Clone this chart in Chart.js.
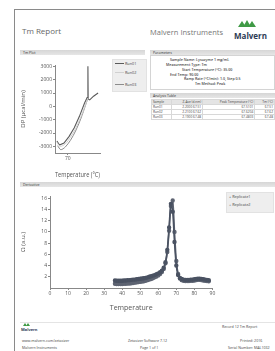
<!DOCTYPE html>
<html><head><meta charset="utf-8">
<script src="https://cdn.jsdelivr.net/npm/chart.js@4/dist/chart.umd.min.js"></script>
<style>
html,body{margin:0;padding:0;background:#fff;}
body{width:275px;height:351px;overflow:hidden;position:relative;font-family:"Open Sans","Noto Sans",sans-serif;}
.abs{position:absolute;white-space:nowrap;}
.bar{position:absolute;height:5px;background:linear-gradient(#d6d6d6,#e6e6e6);font-size:3.5px;line-height:5px;color:#333;padding-left:3px;box-sizing:border-box;}
.t{font-size:3.6px;color:#444;line-height:4.6px;}
.leg{position:absolute;background:#eeeeee;border:1px solid #e2e2e2;}
.legitem{position:absolute;font-size:3.8px;color:#444;white-space:nowrap;}
.tbl{position:absolute;left:151px;top:99px;width:124px;border-collapse:collapse;font-size:3.2px;color:#444;}
.tbl td{border:1px solid #d8d8d8;height:4px;padding:0 1px;line-height:4px;text-align:right;}
.tbl tr:first-child td{background:#e4e4e4;}
.tri{position:absolute;width:0;height:0;border-left:4px solid transparent;border-right:4px solid transparent;border-bottom:6px solid #3f9a45;}
</style></head><body>
<div class="abs" style="left:14px;top:9px;width:300px;height:400px;border:1px solid #8a8a8a;"></div>

<div class="abs" style="left:22px;top:25px;font-size:8px;color:#666;">Tm Report</div>
<div class="abs" style="left:150px;top:27px;font-size:7.5px;color:#777;">Malvern Instruments</div>
<div class="tri" style="left:238px;top:21px;"></div>
<div class="tri" style="left:243px;top:20px;border-bottom-width:7px;"></div>
<div class="tri" style="left:248px;top:21px;"></div>
<div class="abs" style="left:234px;top:30px;font-size:8px;font-weight:bold;color:#2d3b55;">Malvern</div>

<div class="bar" style="left:20px;top:50px;width:125px;">Tm Plot</div>
<div class="bar" style="left:150px;top:50px;width:125px;">Parameters</div>
<div class="abs" style="left:150px;top:55px;width:125px;height:35px;border:1px solid #d4d4d4;box-sizing:border-box;"></div>
<div class="abs t" style="left:170px;top:57.5px;font-weight:600;">Sample Name: Lysozyme 1 mg/mL</div>
<div class="abs t" style="left:166px;top:62.5px;font-weight:600;">Measurement Type: Tm</div>
<div class="abs t" style="left:182px;top:67.5px;font-weight:600;">Start Temperature (°C): 35.00</div>
<div class="abs t" style="left:170px;top:72.5px;font-weight:600;">End Temp: 90.00</div>
<div class="abs t" style="left:184px;top:77px;font-weight:600;">Ramp Rate (°C/min): 1.0, Step 0.5</div>
<div class="abs t" style="left:195px;top:81.5px;font-weight:600;">Tm Method: Peak</div>

<div class="bar" style="left:150px;top:93px;width:125px;">Analysis Table</div>
<table class="tbl">
<tr><td style="text-align:left">Sample</td><td>Z-Ave (d.nm)</td><td>Peak Temperature (°C)</td><td>Tm (°C)</td></tr>
<tr><td style="text-align:left">Run01</td><td>2.2000 67.51</td><td>67.5101</td><td>67.51</td></tr>
<tr><td style="text-align:left">Run02</td><td>2.2100 67.62</td><td>67.6204</td><td>67.62</td></tr>
<tr><td style="text-align:left">Run03</td><td>2.1900 67.48</td><td>67.4803</td><td>67.48</td></tr>
</table>

<div class="abs" style="left:20px;top:57px;"><canvas id="c1" width="82" height="122"></canvas></div>
<div class="leg" style="left:112px;top:59px;width:33px;height:31px;"></div>
<div class="legitem" style="left:115px;top:60.5px;"><span style="display:inline-block;width:9px;height:0;border-top:1px solid #5a5a5a;vertical-align:middle;"></span> Run01</div>
<div class="legitem" style="left:115px;top:70px;"><span style="display:inline-block;width:9px;height:0;border-top:1px solid #d0d0d0;vertical-align:middle;"></span> Run02</div>
<div class="legitem" style="left:115px;top:81.5px;"><span style="display:inline-block;width:9px;height:0;border-top:1px solid #8c8c8c;vertical-align:middle;"></span> Run03</div>

<div class="bar" style="left:20px;top:182px;width:255px;">Derivative</div>
<div class="abs" style="left:20px;top:188px;"><canvas id="c2" width="198" height="124"></canvas></div>
<div class="leg" style="left:226px;top:192px;width:46px;height:19px;"></div>
<div class="legitem" style="left:229px;top:194px;"><span style="color:#4a5262;">+</span> Replicate1</div>
<div class="legitem" style="left:229px;top:202px;"><span style="color:#6c7280;">+</span> Replicate2</div>

<div class="abs" style="left:20px;top:322px;width:255px;height:0;border-top:1px solid #e4e4e4;"></div>
<div class="tri" style="left:23px;top:323px;border-left-width:2px;border-right-width:2px;border-bottom-width:3px;"></div>
<div class="tri" style="left:26px;top:323px;border-left-width:2px;border-right-width:2px;border-bottom-width:3px;"></div>
<div class="abs" style="left:21px;top:327px;font-size:4px;font-weight:bold;color:#2d3b55;">Malvern</div>
<div class="abs t" style="left:22px;top:339px;">www.malvern.com/zetasizer</div>
<div class="abs t" style="left:22px;top:346px;">Malvern Instruments</div>
<div class="abs t" style="left:128px;top:339px;">Zetasizer Software 7.12</div>
<div class="abs t" style="left:140px;top:346px;">Page 1 of 1</div>
<div class="abs t" style="left:222px;top:325px;">Record 12 Tm Report</div>
<div class="abs t" style="left:240px;top:339px;">Printed: 2016</div>
<div class="abs t" style="left:228px;top:346px;">Serial Number: MAL1032</div>

<script>
// ---- Tm plot data ----
const run01Temp = [61.5, 63.5, 67, 71, 75, 79, 83, 85, 85.6, 85.8, 87, 90, 93.5];
const run01Dp   = [-2600, -2900, -2750, -2250, -1600, -750, 250, 650, 3000, 550, 480, 760, 1000];
const run02Temp = [61.5, 64, 68, 72, 76, 80, 84, 85.6];
const run02Dp   = [-2700, -3000, -2820, -2320, -1680, -820, 180, 620];
const run03Temp = [62, 64.5, 68, 72, 76, 80, 84, 85.6];
const run03Dp   = [-2950, -3250, -3050, -2550, -1850, -950, 150, 600];
const tmYTicks  = [-3000, -2000, -1000, 0, 1000, 2000, 3000];
const tmXTicks  = [70];

// ---- Derivative data ----
const derivTemp = [36,37,38,39,40,41,42,43,44,45,46,47,48,49,50,51,52,53,54,55,56,57,58,59,60,61,62,63,64,65,66,67,68,69,70,71,72,73,74,75,76,77,78,79,80,81,82,83,84,85,86,87,88];
const replicate1 = [1.35,1.3,1.3,1.3,1.3,1.35,1.35,1.4,1.4,1.45,1.5,1.5,1.55,1.6,1.65,1.7,1.75,1.8,1.9,2.0,2.1,2.2,2.3,2.45,2.6,2.8,3.1,3.6,4.6,6.8,10.8,15.0,13.6,8.2,4.0,2.3,1.8,1.6,1.5,1.45,1.45,1.45,1.5,1.5,1.55,1.6,1.65,1.65,1.6,1.55,1.5,1.45,1.4];
const replicate2 = [0.75,0.7,0.7,0.7,0.7,0.75,0.75,0.8,0.8,0.85,0.9,0.95,1.0,1.05,1.1,1.15,1.2,1.3,1.4,1.5,1.6,1.75,1.9,2.05,2.25,2.5,2.85,3.4,4.4,6.4,10.2,14.6,15.6,10.0,4.8,2.5,1.7,1.4,1.3,1.25,1.25,1.25,1.3,1.3,1.35,1.4,1.45,1.45,1.4,1.35,1.3,1.25,1.2];
const derivYTicks = [2,4,6,8,10,12,14,16];
const derivXTicks = [0,10,20,30,40,50,60,70,80,90];

const pts = (xs, ys) => xs.map((x, i) => ({x, y: ys[i]}));
const font = {family: "'Open Sans','Noto Sans',sans-serif"};
const plain = v => String(v);

new Chart(document.getElementById('c1'), {
  type: 'line',
  data: { datasets: [
    {label: 'Run02', data: pts(run02Temp, run02Dp), borderColor: '#d0d0d0', borderWidth: 1, pointRadius: 0, tension: 0.3},
    {label: 'Run03', data: pts(run03Temp, run03Dp), borderColor: '#8c8c8c', borderWidth: 1, pointRadius: 0, tension: 0.3},
    {label: 'Run01', data: pts(run01Temp, run01Dp), borderColor: '#5a5a5a', borderWidth: 1.1, pointRadius: 0, tension: 0}
  ]},
  options: {
    responsive: false, animation: false, devicePixelRatio: 1,
    layout: {padding: {top: 8, right: 2, left: 0, bottom: 0}},
    plugins: {legend: {display: false}, tooltip: {enabled: false}},
    scales: {
      x: {type: 'linear', min: 60, max: 95,
          afterBuildTicks: a => { a.ticks = tmXTicks.map(v => ({value: v})); },
          afterFit: s => { s.height = 26; },
          grid: {display: true, drawOnChartArea: false, tickLength: 2, color: '#888'},
          border: {color: '#888'},
          ticks: {font: {...font, size: 5}, color: '#555', padding: 1, maxRotation: 0, callback: plain},
          title: {display: true, text: 'Temperature (°C)', font: {...font, size: 6.5}, color: '#555', padding: {top: 3, bottom: 0}}},
      y: {type: 'linear', min: -3500, max: 3100,
          afterBuildTicks: a => { a.ticks = tmYTicks.map(v => ({value: v})); },
          afterFit: s => { s.width = 35; },
          grid: {display: true, drawOnChartArea: false, tickLength: 2, color: '#888'},
          border: {color: '#888'},
          ticks: {font: {...font, size: 5}, color: '#555', padding: 1, callback: plain},
          title: {display: true, text: 'DP (µcal/min)', font: {...font, size: 6}, color: '#555', padding: {top: 0, bottom: 3}}}
    }
  }
});

new Chart(document.getElementById('c2'), {
  type: 'line',
  data: { datasets: [
    {label: 'Replicate1', data: pts(derivTemp, replicate1), borderColor: '#4a5262', backgroundColor: '#4a5262', borderWidth: 1.6, pointRadius: 1.4, pointStyle: 'circle', tension: 0.3},
    {label: 'Replicate2', data: pts(derivTemp, replicate2), borderColor: '#5e6472', backgroundColor: '#5e6472', borderWidth: 1.6, pointRadius: 1.4, pointStyle: 'circle', tension: 0.3}
  ]},
  options: {
    responsive: false, animation: false, devicePixelRatio: 1,
    layout: {padding: {top: 8, right: 5, left: 0, bottom: 0}},
    plugins: {legend: {display: false}, tooltip: {enabled: false}},
    scales: {
      x: {type: 'linear', min: 0, max: 90,
          afterBuildTicks: a => { a.ticks = derivXTicks.map(v => ({value: v})); },
          afterFit: s => { s.height = 24; },
          grid: {display: true, drawOnChartArea: false, tickLength: 2, color: '#888'},
          border: {color: '#888'},
          ticks: {font: {...font, size: 5}, color: '#555', padding: 1, maxRotation: 0, callback: plain},
          title: {display: true, text: 'Temperature', font: {...font, size: 7}, color: '#555', padding: {top: 3, bottom: 0}}},
      y: {type: 'linear', min: 0, max: 16.4,
          afterBuildTicks: a => { a.ticks = derivYTicks.map(v => ({value: v})); },
          afterFit: s => { s.width = 30; },
          grid: {display: true, drawOnChartArea: false, tickLength: 2, color: '#888'},
          border: {color: '#888'},
          ticks: {font: {...font, size: 5}, color: '#555', padding: 1, callback: plain},
          title: {display: true, text: 'Ω (a.u.)', font: {...font, size: 6}, color: '#555', padding: {top: 0, bottom: 3}}}
    }
  }
});
</script>
</body></html>
